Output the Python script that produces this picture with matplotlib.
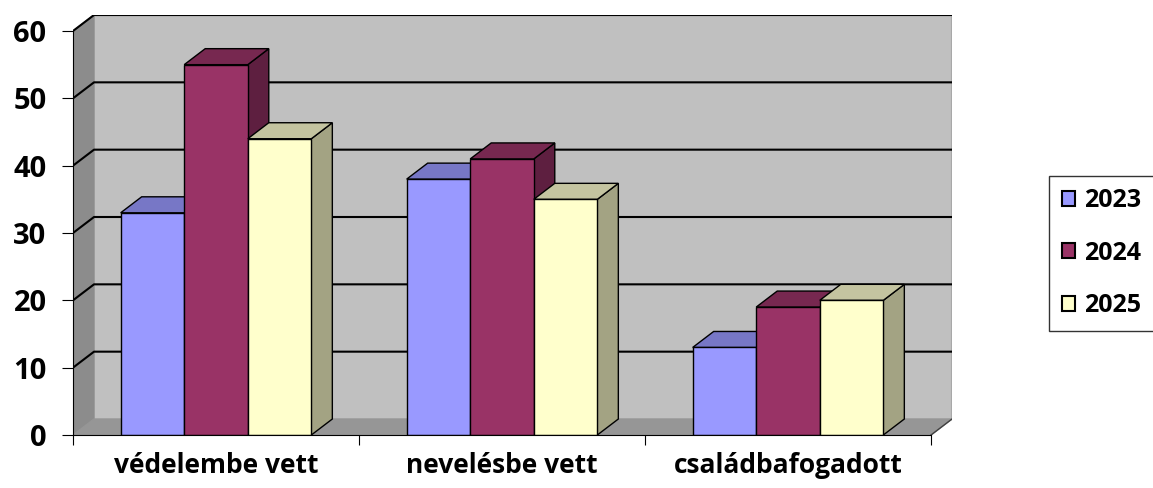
import numpy as np
import matplotlib.pyplot as plt
from matplotlib.patches import Patch

# data
categories = ["védelembe vett", "nevelésbe vett", "családbafogadott"]
years = ["2023", "2024", "2025"]
v2023 = [33, 38, 13]
v2024 = [55, 41, 19]
v2025 = [44, 35, 20]

front = ["#9999FF", "#993366", "#FFFFCC"]
top = ["#7777C6", "#772850", "#C4C4A0"]
side = ["#5C5C99", "#5E1F40", "#A3A383"]

plt.rcParams['font.family'] = ['Open Sans', 'DejaVu Sans']
plt.rcParams['font.weight'] = 'bold'

W, H = 1153, 488
fig = plt.figure(figsize=(W / 100, H / 100), dpi=100)

# front plane: x 0..3 -> px 73..931, y 0..60 -> px 435..31 (from top)
px_x = (931 - 73) / 3
px_y = (435 - 31) / 60
dx = 21 / px_x   # depth offset in data units
dy = 16 / px_y
xmax = 3 + dx
ymax = 60 + dy
left, bottom = 73 / W, (H - 435) / H
ax = fig.add_axes([left, bottom, xmax * px_x / W, ymax * px_y / H])
ax.set_xlim(0, xmax)
ax.set_ylim(0, ymax)
ax.patch.set_visible(False)

# walls
ax.fill([dx, 3 + dx, 3 + dx, dx], [dy, dy, 60 + dy, 60 + dy], color="#C0C0C0", zorder=0)
ax.plot([dx, 3 + dx], [60 + dy, 60 + dy], color="#404040", lw=1.5, zorder=1)
ax.plot([3 + dx, 3 + dx], [dy, 60 + dy], color="#A8A8A8", lw=1.5, zorder=1)
ax.fill([0, dx, dx, 0], [0, dy, 60 + dy, 60], color="#8C8C8C", zorder=0)
ax.fill([0, 3, 3 + dx, dx], [0, 0, dy, dy], color="#969696", zorder=0)
ax.plot([3, 3 + dx], [0, dy], color="#404040", lw=1, zorder=1)
for v in range(10, 61, 10):
    ax.plot([0, dx, 3 + dx], [v, v + dy, v + dy], color="black", lw=1.5, zorder=1)

# bars
bw = 1 / 4.5
series = [v2023, v2024, v2025]
z = 2
for i in range(len(categories)):
    for j, vals in enumerate(series):
        x0 = i + 0.5 + (j - 1.5) * bw
        h = vals[i]
        ax.fill([x0 + bw, x0 + bw + dx, x0 + bw + dx, x0 + bw],
                [0, dy, h + dy, h], facecolor=side[j], edgecolor="black", lw=1, zorder=z)
        ax.fill([x0, x0 + bw, x0 + bw + dx, x0 + dx],
                [h, h, h + dy, h + dy], facecolor=top[j], edgecolor="black", lw=1, zorder=z)
        ax.bar(x0, h, bw, align="edge", color=front[j], edgecolor="black", lw=1, zorder=z)
        z += 1

# axes
for s in ["top", "right"]:
    ax.spines[s].set_visible(False)
ax.spines["left"].set_bounds(0, 60)
ax.spines["bottom"].set_bounds(0, 3)
ax.spines["left"].set_zorder(30)
ax.spines["bottom"].set_zorder(30)
ax.set_yticks(range(0, 61, 10))
ax.tick_params(axis="y", length=8, direction="out", pad=11, labelsize=21)
ax.set_xticks([0, 1, 2, 3])
ax.set_xticklabels([])
ax.tick_params(axis="x", which="major", length=7, direction="out")
ax.set_xticks([0.5, 1.5, 2.5], minor=True)
ax.set_xticklabels(categories, minor=True, fontsize=19, fontweight="bold")
ax.tick_params(axis="x", which="minor", length=0, pad=12)

handles = [Patch(facecolor=c, edgecolor="black", lw=1.5) for c in front]
fig.legend(handles, years, loc="center left", bbox_to_anchor=(1049 / W, 1 - 253 / H),
           frameon=True, fancybox=False, edgecolor="black",
           handlelength=0.55, handleheight=0.55, handletextpad=0.35,
           labelspacing=1.1, borderpad=0.5, borderaxespad=0,
           prop={"weight": "bold", "size": 18})

fig.savefig("out.png", dpi=100)
